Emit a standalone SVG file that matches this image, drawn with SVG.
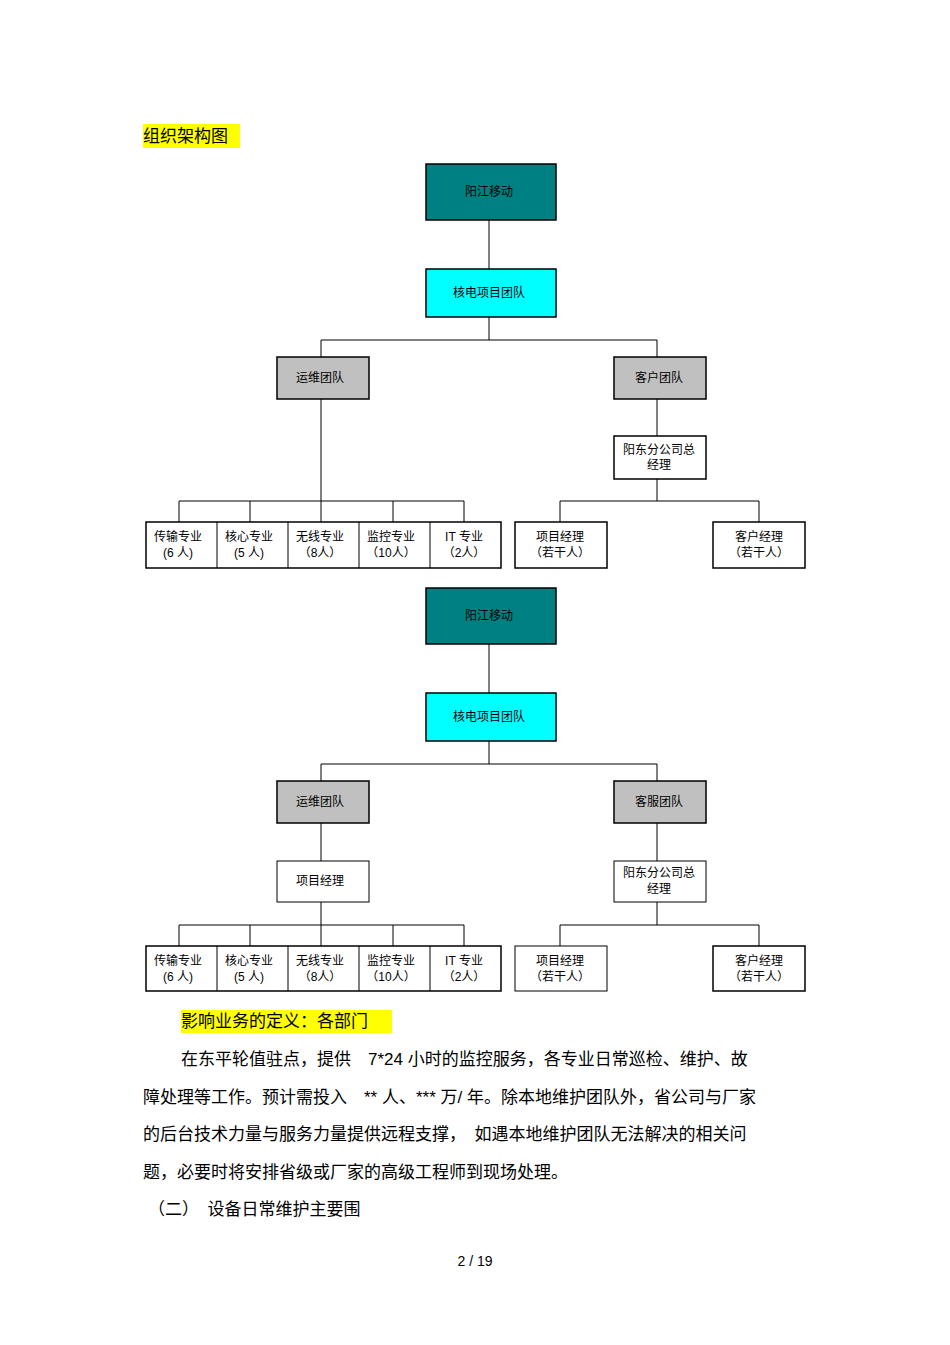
<svg xmlns="http://www.w3.org/2000/svg" width="950" height="1345" viewBox="0 0 950 1345">
<style>
text{font-family:"Liberation Sans","Noto Sans CJK SC",sans-serif;fill:#000}
.n{font-size:12px;text-anchor:middle}
.b{stroke:#000;stroke-width:1.5}
.c{stroke:#000;stroke-width:1;fill:none}
.p{font-size:17px}
</style>
<rect width="950" height="1345" fill="#fff"/>
<rect x="143" y="124" width="97" height="24" fill="#ffff00"/>
<text x="143" y="142" style="font-size:17px">组织架构图</text>
<g id="connectors">
<path class="c" d="M489 220V269M489 317V340M321 340H657M321 340V357M657 340V357M321 399V522M179 501H464M179 501V522M250 501V522M393 501V522M464 501V522M657 399V436M657 479V501M560 501H759M560 501V522M759 501V522"/>
<path class="c" d="M489 644V693M489 741V764M321 764H657M321 764V781M657 764V781M321 823V861M321 902V946M179 925H464M179 925V946M250 925V946M393 925V946M464 925V946M657 823V861M657 902V925M560 925H759M560 925V946M759 925V946"/>
</g>
<g id="n1"><rect class="b" x="426" y="164" width="130" height="56" fill="#008080"/><text class="n" x="489" y="196">阳江移动</text></g>
<g id="n2"><rect class="b" x="426" y="269" width="130" height="48" fill="#00ffff"/><text class="n" x="489" y="297">核电项目团队</text></g>
<g id="n3"><rect class="b" x="277" y="357" width="92" height="42" fill="#c0c0c0"/><text class="n" x="320" y="382">运维团队</text></g>
<g id="n4"><rect class="b" x="614" y="357" width="92" height="42" fill="#c0c0c0"/><text class="n" x="659" y="382">客户团队</text></g>
<g id="n5"><rect class="b" x="614" y="436" width="92" height="43" fill="#fff"/><text class="n" x="659" y="454">阳东分公司总</text><text class="n" x="659" y="469">经理</text></g>
<g id="n6"><rect class="b" x="146" y="522" width="355" height="46" fill="#fff"/><path class="c" d="M217 522V568M288 522V568M359 522V568M430 522V568"/>
<text class="n" x="178" y="541">传输专业</text><text class="n" x="178" y="557">(6 人)</text>
<text class="n" x="249" y="541">核心专业</text><text class="n" x="249" y="557">(5 人)</text>
<text class="n" x="320" y="541">无线专业</text><text class="n" x="320" y="557">（8人）</text>
<text class="n" x="391" y="541">监控专业</text><text class="n" x="391" y="557">（10人）</text>
<text class="n" x="464" y="541">IT 专业</text><text class="n" x="464" y="557">（2人）</text></g>
<g id="n7"><rect class="b" x="515" y="522" width="92" height="46" fill="#fff"/><text class="n" x="560" y="541">项目经理</text><text class="n" x="560" y="557">（若干人）</text></g>
<g id="n8"><rect class="b" x="713" y="522" width="92" height="46" fill="#fff"/><text class="n" x="759" y="541">客户经理</text><text class="n" x="759" y="557">（若干人）</text></g>

<g id="m1"><rect class="b" x="426" y="588" width="130" height="56" fill="#008080"/><text class="n" x="489" y="620">阳江移动</text></g>
<g id="m2"><rect class="b" x="426" y="693" width="130" height="48" fill="#00ffff"/><text class="n" x="489" y="721">核电项目团队</text></g>
<g id="m3"><rect class="b" x="277" y="781" width="92" height="42" fill="#c0c0c0"/><text class="n" x="320" y="806">运维团队</text></g>
<g id="m4"><rect class="b" x="614" y="781" width="92" height="42" fill="#c0c0c0"/><text class="n" x="659" y="806">客服团队</text></g>
<g id="m9"><rect class="c" x="277" y="861" width="92" height="41" fill="#fff"/><text class="n" x="320" y="885">项目经理</text></g>
<g id="m5"><rect class="c" x="614" y="861" width="92" height="41" fill="#fff"/><text class="n" x="659" y="877">阳东分公司总</text><text class="n" x="659" y="893">经理</text></g>
<g id="m6"><rect class="b" x="146" y="946" width="355" height="45" fill="#fff"/><path class="c" d="M217 946V991M288 946V991M359 946V991M430 946V991"/>
<text class="n" x="178" y="965">传输专业</text><text class="n" x="178" y="981">(6 人)</text>
<text class="n" x="249" y="965">核心专业</text><text class="n" x="249" y="981">(5 人)</text>
<text class="n" x="320" y="965">无线专业</text><text class="n" x="320" y="981">（8人）</text>
<text class="n" x="391" y="965">监控专业</text><text class="n" x="391" y="981">（10人）</text>
<text class="n" x="464" y="965">IT 专业</text><text class="n" x="464" y="981">（2人）</text></g>
<g id="m7"><rect class="c" x="515" y="946" width="92" height="45" fill="#fff"/><text class="n" x="560" y="965">项目经理</text><text class="n" x="560" y="981">（若干人）</text></g>
<g id="m8"><rect class="b" x="713" y="946" width="92" height="45" fill="#fff"/><text class="n" x="759" y="965">客户经理</text><text class="n" x="759" y="981">（若干人）</text></g>

<rect x="181" y="1010" width="211" height="23" fill="#ffff00"/>
<text class="p" x="181" y="1027">影响业务的定义：各部门</text>
<text class="p" x="181" y="1065">在东平轮值驻点，提供　7*24 小时的监控服务，各专业日常巡检、维护、故</text>
<text class="p" x="143" y="1103">障处理等工作。预计需投入　** 人、*** 万/ 年。除本地维护团队外，省公司与厂家</text>
<text class="p" x="143" y="1140">的后台技术力量与服务力量提供远程支撑，　如遇本地维护团队无法解决的相关问</text>
<text class="p" x="143" y="1178">题，必要时将安排省级或厂家的高级工程师到现场处理。</text>
<text class="p" x="148" y="1215">（二）　设备日常维护主要围</text>
<text x="475" y="1266" style="font-size:14px;text-anchor:middle">2  /  19</text>
</svg>
